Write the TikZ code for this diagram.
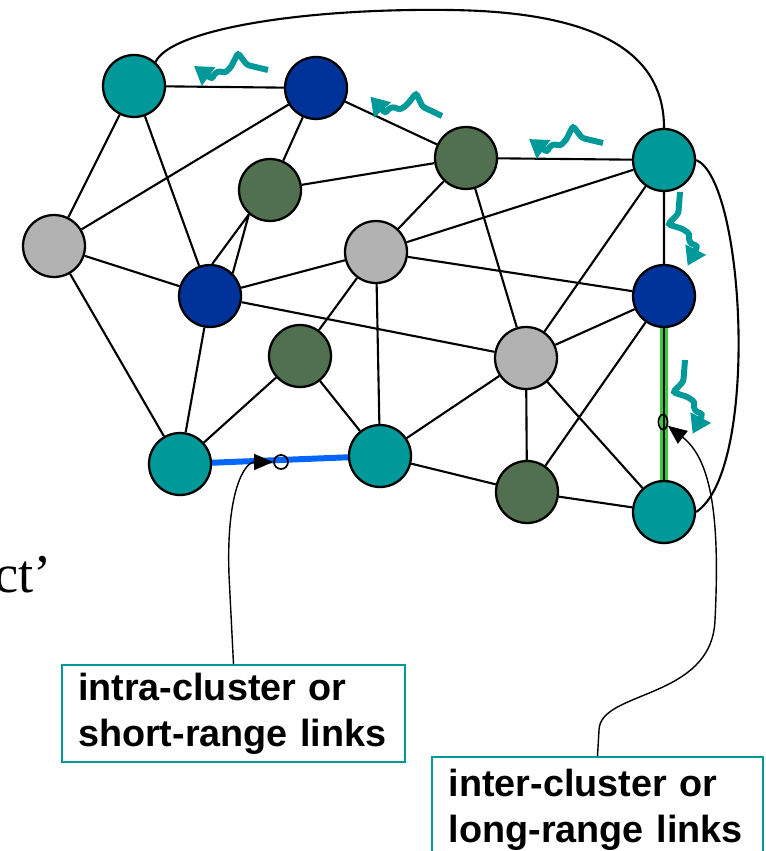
\documentclass[tikz,border=0pt]{standalone}
\usepackage{fontspec}
\setmainfont{Liberation Serif}
\setsansfont{Liberation Sans}
\usepackage{tikz}
\usetikzlibrary{arrows.meta,shapes.geometric}
\definecolor{tealc}{RGB}{0,153,153}
\definecolor{navyc}{RGB}{0,51,153}
\definecolor{mossc}{RGB}{80,112,80}
\definecolor{greyc}{RGB}{178,178,178}
\definecolor{linkblue}{RGB}{0,102,255}
\definecolor{linkgreen}{RGB}{60,200,60}
\tikzset{
  v/.style={circle,draw,line width=1.3pt,minimum size=1.24cm,inner sep=0pt},
  c1/.style={fill=tealc}, c2/.style={fill=navyc}, c3/.style={fill=mossc}, c4/.style={fill=greyc},
  e/.style={line width=1.2pt},
  tag/.style={draw=tealc,line width=1pt,align=left,inner sep=0pt,font=\sffamily\bfseries\fontsize{21.5}{26}\selectfont},
  ring/.style={circle,draw,line width=1pt,minimum size=0.28cm,inner sep=0pt},
  pointer/.style={line width=0.8pt,-{Triangle[length=0.38cm,width=0.32cm]}},
  wave/.style={draw=tealc,line width=3.4pt,rounded corners=1.5pt,-{Triangle[length=0.36cm,width=0.44cm]}},
  squig/.pic={\draw[wave] (0,0) -- (-21,-5) -- (-30,-17) -- (-37,-3) -- (-43,3) -- (-48,1) -- (-53,3) -- (-56,9) -- (-74,-4);},
}
\begin{document}
\begin{tikzpicture}[x=0.02cm,y=-0.02cm]
  \useasboundingbox (0,0) rectangle (766,851);
  % nodes
  \node[v,c1] (A) at (134,86){};
  \node[v,c2] (B) at (316,88){};
  \node[v,c3] (C) at (270,190){};
  \node[v,c3] (D) at (466,158){};
  \node[v,c1] (E) at (664,160){};
  \node[v,c4] (F) at (54,246){};
  \node[v,c4] (G) at (376,252){};
  \node[v,c2] (H) at (210,296){};
  \node[v,c2] (I) at (664,296){};
  \node[v,c3] (J) at (300,356){};
  \node[v,c4] (K) at (526,358){};
  \node[v,c1] (L) at (180,464){};
  \node[v,c1] (M) at (380,456){};
  \node[v,c3] (N) at (527,492){};
  \node[v,c1] (O) at (664,512){};
  % links
  \draw[e] (A)--(B) (A)--(F) (A)--(H) (B)--(F) (B)--(C) (B)--(D);
  \draw[e] (C)--(D) (C.229)--(H.86) (C.229)--(H.45) (D)--(E) (D)--(G) (D)--(K);
  \draw[e] (F)--(H) (F)--(L) (H)--(L) (H)--(G) (H)--(K);
  \draw[e] (G)--(E) (G)--(I) (G)--(J) (G)--(M) (E)--(I) (E)--(K);
  \draw[e] (I)--(K) (I)--(N) (K)--(M) (K)--(N) (K)--(O);
  \draw[e] (J)--(L) (J)--(M) (M)--(N) (N)--(O);
  \draw[e] (A.48) .. controls (170,30) and (300,8) .. (450,10) .. controls (610,12) and (664,60) .. (E.north);
  \draw[e] (E.east) .. controls (745,180) and (760,470) .. (O.east);
  \draw[linkblue,line width=3.4pt] (L)--(M);
  \draw[linkgreen,line width=4pt] (I)--(O);
  \draw[line width=0.9pt] (I)--(O);
  % walkers
  \pic at (268,70) {squig};
  \pic[rotate=-12] at (442,116) {squig};
  \pic at (603,143) {squig};
  \pic[rotate=99] at (680,192) {squig};
  \pic[rotate=99] at (685,360) {squig};
  % labels
  \node[ring] (p1) at (281,462){};
  \node[ellipse,draw,line width=1pt,minimum width=0.18cm,minimum height=0.3cm,inner sep=0pt] (p2) at (663,422){};
  \node[tag,minimum width=6.86cm,minimum height=1.94cm,text width=6.22cm] (box1) at (233.5,713.5){intra-cluster or\\short-range links};
  \node[tag,minimum width=6.62cm,minimum height=2.1cm,text width=5.95cm] (box2) at (597.5,809.5){inter-cluster or\\long-range links};
  \coordinate (bend1) at (229,575);
  \coordinate (bend2) at (599,730);
  \draw[pointer] (box1.north) -- (bend1) .. controls (226,490) and (245,462) .. (p1);
  \draw[pointer] (box2.north) -- (bend2) .. controls (600,690) and (712,700) .. (715,620) .. controls (720,520) and (712,460) .. (p2);
  \node[anchor=base east,font=\fontsize{31}{36}\selectfont,inner sep=0pt] (frag) at (52,592){ct’};
\end{tikzpicture}
\end{document}
